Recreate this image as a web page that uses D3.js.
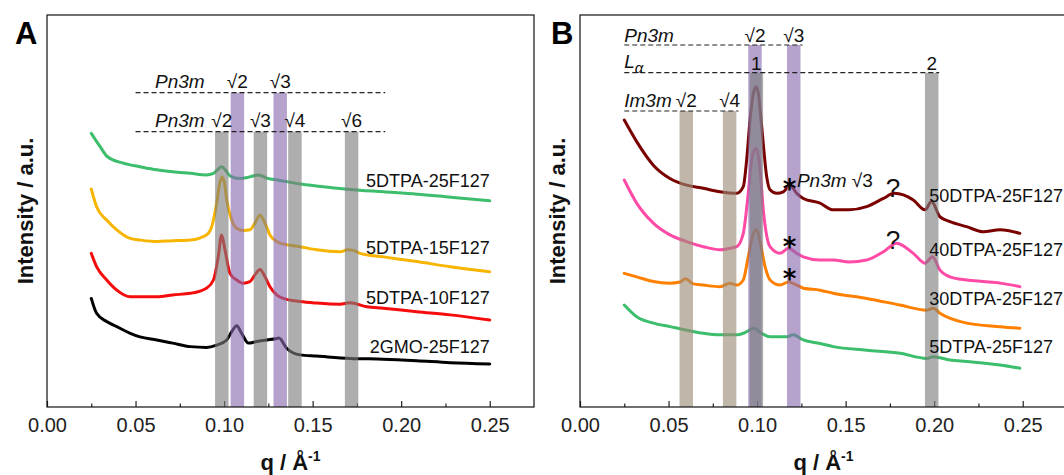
<!DOCTYPE html>
<html>
<head>
<meta charset="utf-8">
<script src="https://cdn.jsdelivr.net/npm/d3@7"></script>
<style>
  body { margin: 0; background: #fff; }
  svg { display: block; font-family: "Liberation Sans", Arial, sans-serif; }
</style>
</head>
<body>
<svg id="chart" width="1064" height="475"></svg>
<script>
// ---------- axis ticks ----------
const qTicks = [0, 0.05, 0.10, 0.15, 0.20, 0.25];
const qMinorTicks = [0.025, 0.075, 0.125, 0.175, 0.225];

// ---------- panel A: SAXS profiles, [q (1/Å), intensity (a.u., offset)] ----------
const a5DTPA25F127 = [[0.025,69.8],[0.030,66.4],[0.034,63.9],[0.043,62.2],[0.0525,61.3],[0.062,60.5],[0.071,60.0],[0.081,59.6],[0.090,59.2],[0.094,59.6],[0.0965,60.6],[0.0986,61.3],[0.101,60.3],[0.1035,58.9],[0.109,58.3],[0.1145,58.7],[0.1195,59.2],[0.124,58.4],[0.1316,57.8],[0.143,56.9],[0.152,56.4],[0.171,55.5],[0.190,54.9],[0.209,54.3],[0.228,53.5],[0.25,52.6]];
const a5DTPA15F127 = [[0.025,55.6],[0.028,51.1],[0.0337,47.7],[0.0394,45.2],[0.047,43.0],[0.0525,42.6],[0.062,42.2],[0.071,42.4],[0.081,42.6],[0.090,43.9],[0.093,46.0],[0.0958,52.0],[0.0975,57.0],[0.0988,58.7],[0.1002,57.2],[0.1015,52.8],[0.1043,47.7],[0.1071,45.6],[0.1108,45.0],[0.1146,45.2],[0.1174,46.9],[0.1203,49.0],[0.1231,46.9],[0.1259,43.9],[0.1297,42.2],[0.1316,41.8],[0.1429,40.9],[0.1523,40.1],[0.1654,39.6],[0.1697,40.1],[0.1735,39.9],[0.1767,39.2],[0.1899,38.3],[0.2088,37.1],[0.2276,35.8],[0.25,34.5]];
const a5DTPA10F127 = [[0.025,39.2],[0.028,35.8],[0.0337,32.4],[0.0394,29.8],[0.047,28.1],[0.0525,28.1],[0.062,28.1],[0.071,28.6],[0.081,29.0],[0.090,30.3],[0.094,32.4],[0.0967,38.3],[0.0986,43.9],[0.1005,40.1],[0.1033,34.1],[0.1071,32.4],[0.1108,31.6],[0.1146,32.0],[0.1174,33.7],[0.1203,35.1],[0.1231,33.2],[0.1259,30.7],[0.1297,28.6],[0.1334,27.7],[0.1429,26.9],[0.1523,26.5],[0.1654,26.2],[0.1711,26.6],[0.1805,25.6],[0.1899,25.2],[0.2088,24.3],[0.2276,23.5],[0.25,22.2]];
const a2GMO25F127 = [[0.025,27.7],[0.028,23.9],[0.0337,21.8],[0.0394,20.5],[0.047,18.8],[0.0525,17.9],[0.062,17.1],[0.071,16.3],[0.081,15.4],[0.090,15.2],[0.0958,15.8],[0.1015,17.1],[0.1043,19.2],[0.1071,20.7],[0.1099,18.8],[0.1137,16.3],[0.1184,16.7],[0.1241,17.1],[0.1290,17.4],[0.1310,17.6],[0.1353,15.0],[0.1429,13.3],[0.1523,13.0],[0.1711,12.4],[0.1899,12.2],[0.2088,11.8],[0.2276,11.3],[0.25,11.0]];
const panelANames = ["5DTPA-25F127", "5DTPA-15F127", "5DTPA-10F127", "2GMO-25F127"];

// ---------- panel B ----------
const b50DTPA25F127 = [[0.025,73.2],[0.032,67.7],[0.0414,61.7],[0.0508,58.3],[0.0602,56.6],[0.0696,55.8],[0.0791,54.9],[0.0885,54.5],[0.0922,56.2],[0.0941,63.0],[0.096,73.2],[0.0979,80.0],[0.0994,81.7],[0.1007,80.0],[0.1026,71.5],[0.1054,58.8],[0.1073,55.4],[0.1111,54.5],[0.1148,54.9],[0.1186,56.6],[0.1224,54.5],[0.1261,53.2],[0.1355,52.0],[0.143,50.3],[0.152,50.3],[0.1619,51.1],[0.1713,53.2],[0.1775,54.5],[0.1882,52.8],[0.1948,50.3],[0.1985,52.4],[0.2033,48.5],[0.2089,47.3],[0.2183,46.0],[0.2277,44.7],[0.2372,45.2],[0.2484,44.3]];
const b40DTPA25F127 = [[0.025,57.9],[0.032,52.0],[0.0414,46.9],[0.0508,43.9],[0.0602,42.2],[0.0696,40.9],[0.0791,40.1],[0.0847,40.5],[0.0885,40.9],[0.0922,44.3],[0.095,54.5],[0.0969,63.0],[0.0994,66.0],[0.1015,61.3],[0.1035,50.3],[0.1073,40.9],[0.113,39.2],[0.1177,40.5],[0.1224,39.2],[0.1261,38.3],[0.1355,37.5],[0.143,37.5],[0.152,37.0],[0.1619,37.5],[0.1713,39.6],[0.1788,41.8],[0.1882,39.2],[0.1948,36.7],[0.199,38.3],[0.2033,34.9],[0.2089,33.2],[0.2183,32.4],[0.2277,32.0],[0.2372,31.6],[0.2484,30.7]];
const b30DTPA25F127 = [[0.025,34.1],[0.032,33.2],[0.0414,32.0],[0.0508,31.6],[0.0565,31.9],[0.0595,32.7],[0.064,31.4],[0.0696,31.1],[0.0791,30.7],[0.0847,31.6],[0.0885,31.1],[0.0922,32.4],[0.095,38.3],[0.0979,44.3],[0.0998,45.3],[0.1015,42.6],[0.1045,35.8],[0.1073,32.4],[0.113,31.1],[0.1177,31.9],[0.1224,31.1],[0.1261,30.3],[0.1355,29.8],[0.143,29.0],[0.1619,27.7],[0.1807,26.0],[0.1958,24.7],[0.1995,25.2],[0.2033,23.9],[0.2183,21.4],[0.2372,20.5],[0.2484,20.1]];
const b5DTPA25F127 = [[0.025,26.0],[0.032,23.0],[0.0414,21.4],[0.0508,20.5],[0.0602,19.6],[0.0696,18.8],[0.0791,18.4],[0.0885,18.4],[0.0941,19.2],[0.0979,20.1],[0.1026,18.8],[0.1073,17.9],[0.1167,17.9],[0.1205,18.4],[0.1261,17.1],[0.1355,16.2],[0.143,15.4],[0.1619,14.5],[0.1807,13.7],[0.1958,12.4],[0.1995,12.8],[0.2089,12.0],[0.2183,11.6],[0.2372,10.7],[0.2484,9.9]];
const panelBNames = ["50DTPA-25F127", "40DTPA-25F127", "30DTPA-25F127", "5DTPA-25F127"];

// ---------- indexed reflections (q of each band) ----------
const aPn3mUpperQ = [0.1075, 0.1317];
const aPn3mUpperIdx = ["√2", "√3"];
const aPn3mLowerQ = [0.0987, 0.1205, 0.1400, 0.1720];
const aPn3mLowerIdx = ["√2", "√3", "√4", "√6"];
const bPn3mQ = [0.0988, 0.1207];
const bPn3mIdx = ["√2", "√3"];
const bLalphaQ = [0.0996, 0.1986];
const bLalphaIdx = ["1", "2"];
const bIm3mQ = [0.0600, 0.0845];
const bIm3mIdx = ["√2", "√4"];

// starred and question-marked peaks in panel B: [q, intensity]
const bStarMarks = [[0.1183, 56.8], [0.1183, 42.0], [0.1183, 34.0]];
const bQueryMarks = [[0.1768, 55.8], [0.1768, 42.5]];

// ---------- layout ----------
const svg = d3.select("#chart");
const TOP = 15, BOTTOM = 407;
const bandHalf = 0.0038;
const bandStyle = {
  gray:   { fill: "#7c7c7c", opacity: 0.62 },
  purple: { fill: "#876baf", opacity: 0.62 },
  tan:    { fill: "#9b8976", opacity: 0.62 }
};
const noteFont = 19;
const nameFont = 18;

const y = d3.scaleLinear().domain([0, 100]).range([BOTTOM, TOP]);

function makePanel(left, right, letter, letterX, titleX) {
  const x = d3.scaleLinear().domain([0, 0.275]).range([left, right]);
  const g = svg.append("g");

  const major = g.append("g").attr("transform", `translate(0,${BOTTOM})`)
    .call(d3.axisBottom(x).tickValues(qTicks).tickSize(-6).tickPadding(11)
      .tickFormat(d3.format(".2f")));
  major.select(".domain").remove();
  major.selectAll("text").attr("font-size", 20).attr("fill", "#222")
    .attr("font-family", "Liberation Sans, Arial, sans-serif");
  major.selectAll("line").attr("stroke", "#222").attr("stroke-width", 1.2);
  const minor = g.append("g").attr("transform", `translate(0,${BOTTOM})`)
    .call(d3.axisBottom(x).tickValues(qMinorTicks).tickSize(-3.5).tickFormat(""));
  minor.select(".domain").remove();
  minor.selectAll("line").attr("stroke", "#222").attr("stroke-width", 1.2);

  const xt = g.append("text").attr("x", (left + right) / 2).attr("y", 470)
    .attr("text-anchor", "middle").attr("font-weight", "bold").attr("font-size", 22).attr("fill", "#111");
  xt.append("tspan").text("q / Å");
  xt.append("tspan").text("-1").attr("font-size", 14).attr("dy", -9);
  g.append("text").attr("transform", `translate(${titleX},${(TOP + BOTTOM) / 2}) rotate(-90)`)
    .attr("text-anchor", "middle").attr("dominant-baseline", "central")
    .attr("font-weight", "bold").attr("font-size", 22).attr("fill", "#111")
    .text("Intensity / a.u.");

  g.append("text").attr("x", letterX).attr("y", 44).attr("font-weight", "bold")
    .attr("font-size", 31).attr("fill", "#000").text(letter);

  return { x, g };
}

const line = x => d3.line().x(d => x(d[0])).y(d => y(d[1])).curve(d3.curveMonotoneX);

function valueAt(series, q) {
  for (let i = 1; i < series.length; i++) {
    if (series[i][0] >= q) {
      const [q0, v0] = series[i - 1], [q1, v1] = series[i];
      return v0 + (v1 - v0) * (q - q0) / (q1 - q0);
    }
  }
  return series[series.length - 1][1];
}

function drawCurves(p, list, colors) {
  list.forEach((s, i) => {
    p.g.append("path").datum(s).attr("d", line(p.x))
      .attr("fill", "none").attr("stroke", colors[i]).attr("stroke-width", 3)
      .attr("stroke-linejoin", "round").attr("stroke-linecap", "round");
  });
}

function drawBands(p, qs, kind, topY) {
  const st = bandStyle[kind];
  p.g.selectAll(null).data(qs).enter().append("rect")
    .attr("x", d => p.x(d - bandHalf)).attr("width", d => p.x(d + bandHalf) - p.x(d - bandHalf))
    .attr("y", topY).attr("height", BOTTOM - topY)
    .attr("fill", st.fill).attr("opacity", st.opacity);
}

function dashed(p, q0, q1, yy) {
  p.g.append("line").attr("x1", p.x(q0)).attr("x2", p.x(q1)).attr("y1", yy).attr("y2", yy)
    .attr("stroke", "#222").attr("stroke-width", 1.2).attr("stroke-dasharray", "5,3");
}

function indexLabels(p, qs, labels, yy) {
  p.g.selectAll(null).data(qs).enter().append("text")
    .attr("x", d => p.x(d)).attr("y", yy).attr("text-anchor", "middle")
    .attr("font-size", noteFont).attr("fill", "#111")
    .text((d, i) => labels[i]);
}

function italicLabel(p, xPix, yy, txt) {
  p.g.append("text").attr("x", xPix).attr("y", yy).attr("font-size", noteFont)
    .attr("font-style", "italic").attr("fill", "#111").text(txt);
}

// ================= Panel A =================
const A = makePanel(47, 534, "A", 15, 25);
const aSeries = [a5DTPA25F127, a5DTPA15F127, a5DTPA10F127, a2GMO25F127];
drawCurves(A, aSeries, ["#3cbe6c", "#f7b400", "#f50c0c", "#000000"]);

const aUpperY = 92.7, aLowerY = 131.7;
drawBands(A, aPn3mLowerQ, "gray", aLowerY);
drawBands(A, aPn3mUpperQ, "purple", aUpperY);
dashed(A, 0.05, 0.191, aUpperY);
dashed(A, 0.05, 0.191, aLowerY);
italicLabel(A, A.x(0.061), aUpperY - 4.5, "Pn3m");
italicLabel(A, A.x(0.061), aLowerY - 4.5, "Pn3m");
indexLabels(A, aPn3mUpperQ, aPn3mUpperIdx, aUpperY - 4.5);
indexLabels(A, aPn3mLowerQ, aPn3mLowerIdx, aLowerY - 4.5);

aSeries.forEach((s, i) => {
  A.g.append("text").attr("x", A.x(0.25)).attr("y", y(valueAt(s, 0.21)) - 7.5)
    .attr("text-anchor", "end").attr("font-size", nameFont).attr("fill", "#111")
    .text(panelANames[i]);
});

A.g.append("rect").attr("x", 47).attr("y", TOP).attr("width", 534 - 47).attr("height", BOTTOM - TOP)
  .attr("fill", "none").attr("stroke", "#111").attr("stroke-width", 1.2);

// ================= Panel B =================
const B = makePanel(580, 1067, "B", 551, 557);
const bSeries = [b50DTPA25F127, b40DTPA25F127, b30DTPA25F127, b5DTPA25F127];
drawCurves(B, bSeries, ["#7a0000", "#ff4aa6", "#ff8000", "#3cbe6c"]);

const bPn3mY = 45, bLaY = 72.7, bIm3mY = 111;
drawBands(B, bIm3mQ, "tan", bIm3mY);
drawBands(B, bPn3mQ, "purple", bPn3mY);
drawBands(B, bLalphaQ, "gray", bLaY);
dashed(B, 0.025, 0.1256, bPn3mY);
dashed(B, 0.025, 0.2028, bLaY);
dashed(B, 0.025, 0.0895, bIm3mY);

italicLabel(B, B.x(0.025), bPn3mY - 3.5, "Pn3m");
indexLabels(B, bPn3mQ, bPn3mIdx, bPn3mY - 3.5);
const la = B.g.append("text").attr("x", B.x(0.025)).attr("y", bLaY - 5)
  .attr("font-size", noteFont).attr("font-style", "italic").attr("fill", "#111");
la.append("tspan").text("L");
la.append("tspan").text("α").attr("font-size", 15).attr("dy", 5);
indexLabels(B, bLalphaQ, bLalphaIdx, bLaY - 3);
italicLabel(B, B.x(0.025), bIm3mY - 3.7, "Im3m");
indexLabels(B, bIm3mQ, bIm3mIdx, bIm3mY - 3.7);

// peak markers
B.g.selectAll(null).data(bStarMarks).enter().append("text")
  .attr("x", d => B.x(d[0])).attr("y", d => y(d[1]) + 14)
  .attr("text-anchor", "middle").attr("font-size", 26).attr("font-weight", "bold")
  .attr("font-family", "DejaVu Sans, sans-serif").attr("fill", "#000").text("*");
B.g.selectAll(null).data(bQueryMarks).enter().append("text")
  .attr("x", d => B.x(d[0])).attr("y", d => y(d[1]) + 9)
  .attr("text-anchor", "middle").attr("font-size", 26).attr("fill", "#111").text("?");
const pn = B.g.append("text").attr("x", B.x(0.1225)).attr("y", y(bStarMarks[0][1]) + 2.5)
  .attr("font-size", noteFont).attr("fill", "#111");
pn.append("tspan").text("Pn3m").attr("font-style", "italic");
pn.append("tspan").text(" √3");

bSeries.forEach((s, i) => {
  B.g.append("text").attr("x", B.x(0.1972)).attr("y", y(valueAt(s, 0.2)) - 4)
    .attr("font-size", nameFont).attr("fill", "#111")
    .text(panelBNames[i]);
});

B.g.append("rect").attr("x", 580).attr("y", TOP).attr("width", 1067 - 580).attr("height", BOTTOM - TOP)
  .attr("fill", "none").attr("stroke", "#111").attr("stroke-width", 1.2);
</script>
</body>
</html>
